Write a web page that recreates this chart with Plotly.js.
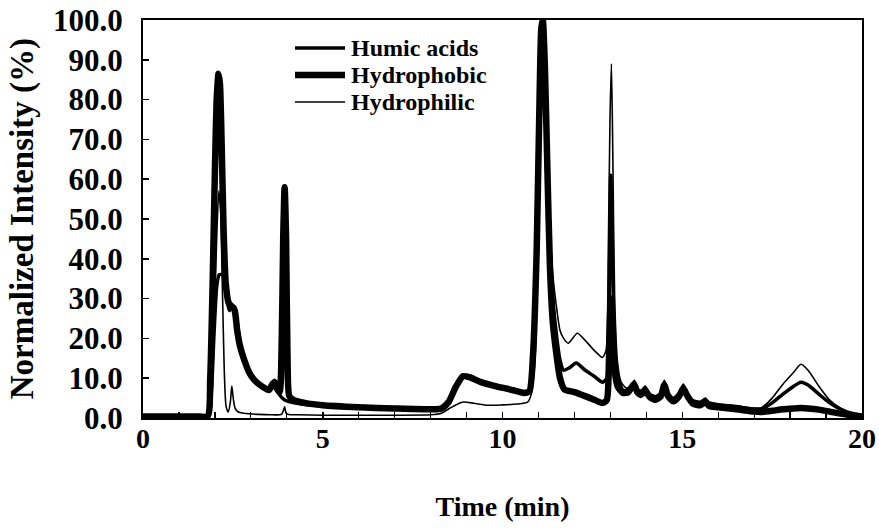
<!DOCTYPE html>
<html>
<head>
<meta charset="utf-8">
<script src="https://cdn.plot.ly/plotly-3.0.1.min.js"></script>
<style>html,body{margin:0;padding:0;background:#fff;}#chart{width:879px;height:532px;}</style>
</head>
<body>
<div id="chart"></div>
<script>
// Humic acids (medium line)
const humicTime = [0,0.5,1.0,1.5,1.82,1.9,1.97,2.05,2.12,2.2,2.27,2.33,2.4,2.47,2.55,2.62,2.7,2.8,2.95,3.1,3.3,3.5,3.6,3.66,3.72,3.8,3.9,4.0,4.2,4.5,5.0,6.0,7.0,8.0,8.3,8.5,8.7,8.9,9.1,9.4,9.8,10.2,10.6,10.75,10.85,10.95,11.02,11.08,11.12,11.18,11.25,11.32,11.4,11.5,11.6,11.7,11.86,12.05,12.3,12.55,12.78,12.9,12.96,13.01,13.06,13.12,13.2,13.35,13.5,13.6,13.67,13.75,13.85,13.97,14.1,14.25,14.4,14.5,14.6,14.75,14.9,15.03,15.15,15.3,15.5,15.64,15.75,16.0,16.5,17.0,17.2,17.5,17.8,18.1,18.3,18.5,18.8,19.1,19.4,19.7,20];
const humicVal  = [0.4,0.4,0.4,0.4,0.5,6,20,33,36,36,34,30,27,28,28,24,19,15,11.5,9.5,7.8,6.8,8,9.5,7.5,5.8,4.8,4.3,3.8,3.4,3.0,2.6,2.4,2.3,2.5,4.2,8,10.5,10.3,9.2,8.2,7.4,6.6,7,16,42,75,98,100,90,66,44,30,21,14.5,12,12.6,13.8,12,10.5,9,10,25,61,40,18,10.5,7,7,8.5,9,7,6.5,7.5,5.8,5.2,6,9,6.2,4.8,6,8,6,4.2,3.8,4.5,3.6,3.3,2.8,2.2,2.2,3.8,6,8,9,8.3,6,3.8,2.2,1.2,0.6];

// Hydrophobic (thick line)
const phobTime = [0,0.5,1.0,1.5,1.8,1.87,1.94,2.0,2.05,2.1,2.14,2.19,2.24,2.3,2.38,2.47,2.55,2.62,2.7,2.8,2.95,3.1,3.3,3.5,3.6,3.66,3.72,3.8,3.86,3.9,3.94,3.98,4.02,4.07,4.2,4.5,5.0,6.0,7.0,8.0,8.3,8.5,8.7,8.9,9.1,9.4,9.8,10.2,10.6,10.75,10.85,10.95,11.02,11.08,11.12,11.18,11.25,11.32,11.4,11.5,11.6,11.72,12.0,12.3,12.55,12.78,12.9,12.96,13.01,13.06,13.12,13.2,13.35,13.5,13.6,13.67,13.75,13.85,13.97,14.1,14.25,14.4,14.5,14.6,14.75,14.9,15.03,15.15,15.3,15.5,15.64,15.75,16.0,16.5,17.0,17.2,17.5,17.8,18.1,18.3,18.5,18.8,19.1,19.4,19.7,20];
const phobVal  = [0.4,0.4,0.4,0.4,0.5,10,35,62,80,86.5,84,68,48,34,29,28,27,22,18,15,11.5,9.5,8,7,8.5,9,7.5,6.5,20,45,58,45,15,5.5,4.5,3.8,3.2,2.7,2.4,2.2,2.4,4,7.8,10.5,10.2,9,8,7.2,6.3,6.8,16,42,75,98,100,88,62,38,24,16,10,7.2,6.5,5.5,4.6,3.8,4.5,14,30,24,12,8,6.3,6.5,7.8,8.3,6.5,5.8,6.8,5.2,4.6,5.4,8.3,5.6,4.2,5.3,7.4,5.4,3.6,3.2,4,3,2.7,2.2,1.6,1.5,1.8,2.2,2.4,2.5,2.4,2.1,1.6,1.1,0.7,0.4];

// Hydrophilic (thin line)
const philTime = [0,0.5,1.0,1.5,1.85,1.93,2.0,2.06,2.11,2.16,2.21,2.26,2.31,2.37,2.43,2.47,2.51,2.56,2.65,2.8,3.2,3.6,3.85,3.91,3.94,3.98,4.05,4.3,5.0,6.0,7.0,8.0,8.3,8.6,8.9,9.2,9.6,10.0,10.4,10.7,10.8,10.9,10.98,11.05,11.1,11.16,11.23,11.3,11.4,11.5,11.6,11.7,11.83,12.08,12.3,12.55,12.78,12.88,12.94,12.99,13.03,13.07,13.12,13.2,13.3,13.45,13.6,13.67,13.75,13.85,13.97,14.1,14.25,14.4,14.5,14.6,14.75,14.9,15.03,15.15,15.3,15.5,15.64,15.75,16.0,16.5,17.0,17.2,17.5,17.8,18.1,18.3,18.5,18.8,19.1,19.4,19.7,20];
const philVal  = [0.4,0.4,0.4,0.4,0.5,8,30,48,57,52,32,12,3,1.5,4,8,5,2.5,1.5,1.2,0.9,0.8,0.9,2,2.8,1.2,0.9,0.8,0.7,0.7,0.7,0.8,1.2,2.8,4,3.7,3.2,3.3,3.5,4,6,14,40,80,100,90,68,50,36,28,22,20,18.8,21.3,19.5,17,15.2,17,40,75,89,65,30,14,9,7.5,8.5,9.5,7.5,7,8,6.2,5.6,6.4,9.5,6.6,5.2,6.4,8.5,6.4,4.6,4.2,5,4,3.6,3.1,2.5,2.6,5,8.5,11.5,13.5,12,8,4.5,2.5,1.3,0.6];

const seriesNames = ['Humic acids','Hydrophobic','Hydrophilic'];
const xTickVals = [0,5,10,15,20];
const yTickVals = [0,10,20,30,40,50,60,70,80,90,100];
const xTitle = 'Time (min)';
const yTitle = 'Normalized Intensity (%)';

const FONT = 'Liberation Serif, Times New Roman, serif';
const widths = [3.5, 6.5, 1.6];

const traces = [
  {x: phobTime, y: phobVal, name: seriesNames[1], type:'scatter', mode:'lines', line:{color:'#000', width:widths[1], shape:'spline', smoothing:0.6}},
  {x: humicTime, y: humicVal, name: seriesNames[0], type:'scatter', mode:'lines', line:{color:'#000', width:widths[0], shape:'spline', smoothing:0.6}},
  {x: philTime, y: philVal, name: seriesNames[2], type:'scatter', mode:'lines', line:{color:'#000', width:widths[2], shape:'spline', smoothing:0.6}}
];

// custom legend (line sample + label) in paper coordinates
const legY = [0.9296, 0.8618, 0.794];
const shapes = [], annotations = [];
seriesNames.forEach((n,i)=>{
  shapes.push({type:'line', xref:'paper', yref:'paper', x0:0.2114, x1:0.281, y0:legY[i], y1:legY[i], line:{color:'#000', width:widths[i]}});
  annotations.push({xref:'paper', yref:'paper', x:0.2865, y:legY[i], xanchor:'left', yanchor:'middle', showarrow:false, text:n, font:{family:FONT, size:24, color:'#000', weight:'bold'}});
});
// y-axis title placed as rotated text
annotations.push({xref:'paper', yref:'paper', x:-0.168, y:0.5, xanchor:'center', yanchor:'middle', textangle:-90, showarrow:false, text:yTitle, font:{family:FONT, size:33, color:'#000', weight:'bold'}});

const layout = {
  width: 879, height: 532,
  margin: {l:143, r:17, t:20, b:114, pad:0},
  paper_bgcolor:'#fff', plot_bgcolor:'#fff',
  showlegend:false,
  font:{family:FONT, color:'#000'},
  xaxis:{
    range:[0,20], tickvals:xTickVals, ticktext:xTickVals.map(String),
    ticks:'inside', ticklen:6, tickwidth:1.5, tickcolor:'#000',
    minor:{dtick:1, tick0:0, ticks:'inside', ticklen:6, tickwidth:1.2, tickcolor:'#000'},
    showline:true, linewidth:2, linecolor:'#000', mirror:true,
    showgrid:false, zeroline:false,
    tickfont:{family:FONT, size:28, weight:'bold'},
    ticklabelstandoff:-6,
    title:{text:xTitle, font:{family:FONT, size:28, weight:'bold'}, standoff:44}
  },
  yaxis:{
    range:[0,100], tickvals:yTickVals, tickformat:'.1f',
    ticks:'inside', ticklen:6, tickwidth:1.5, tickcolor:'#000',
    showline:true, linewidth:2, linecolor:'#000', mirror:true,
    showgrid:false, zeroline:false,
    tickfont:{family:FONT, size:31, weight:'bold'},
    ticklabelstandoff:12
  },
  shapes: shapes,
  annotations: annotations
};

Plotly.newPlot('chart', traces, layout, {displayModeBar:false, staticPlot:true});
</script>
</body>
</html>
